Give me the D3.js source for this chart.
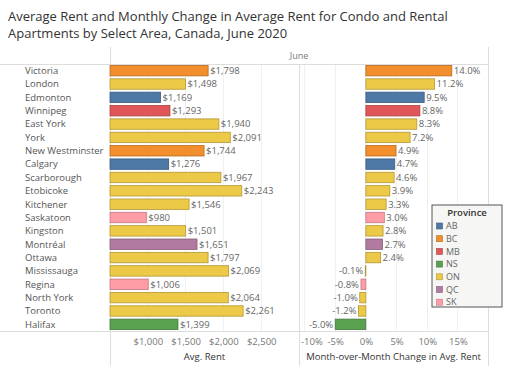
<!DOCTYPE html>
<html><head><meta charset="utf-8">
<script src="https://cdn.jsdelivr.net/npm/d3@7/dist/d3.min.js"></script>
<style>body{margin:0;background:#fff}svg{display:block;font-family:"Open Sans",sans-serif}</style>
</head><body><svg id="c" width="512" height="372"></svg>
<script>
const cities = ["Victoria","London","Edmonton","Winnipeg","East York","York","New Westminster","Calgary","Scarborough","Etobicoke","Kitchener","Saskatoon","Kingston","Montréal","Ottawa","Mississauga","Regina","North York","Toronto","Halifax"];
const provinceOf = ["BC","ON","AB","MB","ON","ON","BC","AB","ON","ON","ON","SK","ON","QC","ON","ON","SK","ON","ON","NS"];
const avgRent = [1798,1498,1169,1293,1940,2091,1744,1276,1967,2243,1546,980,1501,1651,1797,2069,1006,2064,2261,1399];
const momChange = [14.0,11.2,9.5,8.8,8.3,7.2,4.9,4.7,4.6,3.9,3.3,3.0,2.8,2.7,2.4,-0.1,-0.8,-1.0,-1.2,-5.0];
const provinces = ["AB","BC","MB","NS","ON","QC","SK"];
const provColors = ["#4e79a7","#f28e2b","#e15759","#59a14f","#edc948","#b07aa1","#ff9da7"];
const rentTicks = [1000,1500,2000,2500];
const changeTicks = [-10,-5,0,5,10,15];

(function(){
const svg = d3.select("#c");
const color = d3.scaleOrdinal(provinces, provColors);
const stroke = p => d3.color(color(p)).darker(0.8);

const yTop = 64, yBot = 331;
const L0 = 110, L1 = 299, R0 = 299, R1 = 488;
const y = d3.scaleBand(cities, [yTop, yBot]).paddingInner(0.22).paddingOuter(0.11);
const xr = d3.scaleLinear([500, 3000], [L0, L1]);
const xc = d3.scaleLinear([-10.9, 19.9], [R0, R1]);

const t = svg.append("text").attr("x", 8).attr("fill", "#333").attr("font-size", 13);
t.append("tspan").attr("x", 8).attr("y", 21).text("Average Rent and Monthly Change in Average Rent for Condo and Rental");
t.append("tspan").attr("x", 8).attr("y", 38).text("Apartments by Select Area, Canada, June 2020");

const line = (x1,y1,x2,y2,c) => svg.append("line").attr("x1",x1).attr("y1",y1).attr("x2",x2).attr("y2",y2).attr("stroke",c||"#ddd").attr("stroke-width",1).attr("shape-rendering","crispEdges");
rentTicks.forEach(v => line(xr(v), yTop, xr(v), yBot, "#f0f0f0"));
changeTicks.forEach(v => line(xc(v), yTop, xc(v), yBot, "#f0f0f0"));
line(0, 64, R1, 64, "#ddd");
line(0, yBot, R1, yBot, "#ddd");
line(L0, 47, L0, 366, "#ddd");
line(L1, 64, L1, 366, "#ddd");
line(R1, 47, R1, 366, "#ddd");

svg.append("text").attr("x", (L0+R1)/2).attr("y", 59).attr("text-anchor","middle").attr("font-size", 9).attr("fill","#777").text("June");

svg.append("g").selectAll("text").data(cities).join("text")
  .attr("x", 25).attr("y", d => y(d) + y.bandwidth()/2).attr("dy","0.35em")
  .attr("font-size", 9.5).attr("fill","#555").text(d => d);

const gr = svg.append("g");
gr.selectAll("rect").data(cities).join("rect")
  .attr("x", xr(500)).attr("y", d => y(d))
  .attr("width", (d,i) => xr(avgRent[i]) - xr(500)).attr("height", y.bandwidth())
  .attr("fill", (d,i) => color(provinceOf[i])).attr("stroke", (d,i) => stroke(provinceOf[i])).attr("stroke-width", 0.8);
gr.selectAll("text").data(cities).join("text")
  .attr("x", (d,i) => xr(avgRent[i]) + 2).attr("y", d => y(d) + y.bandwidth()/2).attr("dy","0.35em")
  .attr("font-size", 9.5).attr("fill","#666").text((d,i) => d3.format("$,")(avgRent[i]));

const gc = svg.append("g");
gc.selectAll("rect").data(cities).join("rect")
  .attr("x", (d,i) => xc(Math.min(0, momChange[i]))).attr("y", d => y(d))
  .attr("width", (d,i) => Math.abs(xc(momChange[i]) - xc(0))).attr("height", y.bandwidth())
  .attr("fill", (d,i) => color(provinceOf[i])).attr("stroke", (d,i) => stroke(provinceOf[i])).attr("stroke-width", 0.8);
gc.selectAll("text").data(cities).join("text")
  .attr("x", (d,i) => momChange[i] >= 0 ? xc(momChange[i]) + 2 : xc(momChange[i]) - 2)
  .attr("text-anchor", (d,i) => momChange[i] >= 0 ? "start" : "end")
  .attr("y", d => y(d) + y.bandwidth()/2).attr("dy","0.35em")
  .attr("font-size", 9.5).attr("fill","#666").text((d,i) => momChange[i].toFixed(1) + "%");

const axR = svg.append("g").attr("transform", `translate(0,${yBot})`)
  .call(d3.axisBottom(xr).tickValues(rentTicks).tickFormat(d3.format("$,")).tickSize(0).tickPadding(7));
const axC = svg.append("g").attr("transform", `translate(0,${yBot})`)
  .call(d3.axisBottom(xc).tickValues(changeTicks).tickFormat(d => d + "%").tickSize(0).tickPadding(7));
[axR, axC].forEach(a => {
  a.select(".domain").remove();
  a.selectAll("text").attr("font-size", 9.5).attr("fill", "#777").attr("font-family", "'Open Sans',sans-serif");
});
axC.selectAll("text").filter(d => d === -10).attr("text-anchor","start").attr("x", -4);

svg.append("text").attr("x", (L0+L1)/2).attr("y", 360).attr("text-anchor","middle").attr("font-size", 9.5).attr("fill","#333").text("Avg. Rent");
svg.append("text").attr("x", (R0+R1)/2).attr("y", 360).attr("text-anchor","middle").attr("font-size", 9.5).attr("fill","#333").text("Month-over-Month Change in Avg. Rent");

const lg = svg.append("g").attr("transform","translate(432,205)");
lg.append("rect").attr("width", 70).attr("height", 102).attr("fill","#f6f6f4").attr("stroke","#555").attr("stroke-width",1);
lg.append("text").attr("x", 35).attr("y", 11).attr("text-anchor","middle").attr("font-size", 9.5).attr("font-weight","600").attr("fill","#333").text("Province");
const li = lg.selectAll("g.i").data(provinces).join("g").attr("class","i")
  .attr("transform", (d,i) => `translate(0,${21 + i*12.7})`);
li.append("rect").attr("x", 4.5).attr("y", -3).attr("width", 6).attr("height", 6)
  .attr("fill", d => color(d)).attr("stroke", d => stroke(d)).attr("stroke-width", 0.6);
li.append("text").attr("x", 14).attr("dy","0.35em").attr("font-size", 9).attr("fill","#666").text(d => d);
})();
</script></body></html>
